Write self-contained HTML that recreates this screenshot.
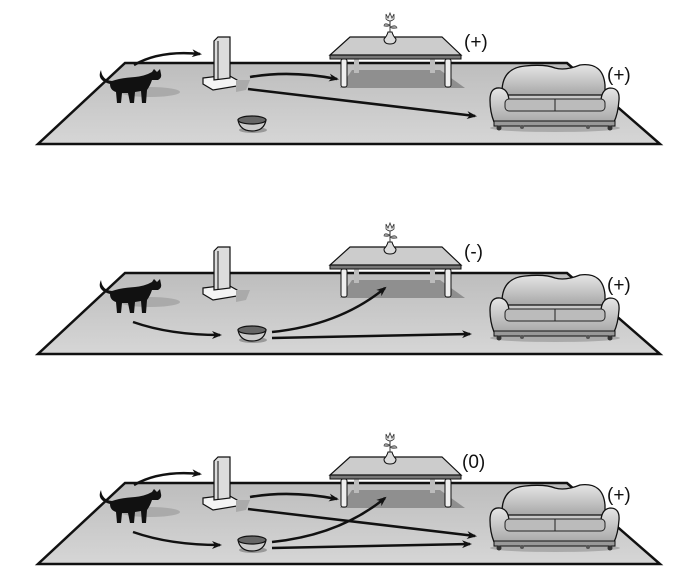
<!DOCTYPE html>
<html><head><style>
html,body{margin:0;padding:0;background:#fff;}
svg{display:block;}
text{font-family:"Liberation Sans",sans-serif;font-size:19px;fill:#111;}
</style></head><body>
<svg width="698" height="575" viewBox="0 0 698 575" xmlns="http://www.w3.org/2000/svg">
<defs>
<linearGradient id="fl" x1="0" y1="0" x2="0" y2="1">
<stop offset="0" stop-color="#bdbdbd"/><stop offset="1" stop-color="#d6d6d6"/></linearGradient>
<linearGradient id="sofa" x1="0" y1="0" x2="0" y2="1">
<stop offset="0" stop-color="#e6e6e6"/><stop offset="1" stop-color="#a8a8a8"/></linearGradient>
<marker id="ah" markerWidth="10" markerHeight="8" refX="8" refY="4" orient="auto" markerUnits="userSpaceOnUse" viewBox="0 0 10 8">
<path d="M0,0 L10,4 L0,8 L3,4 Z" fill="#111"/></marker>
<g id="room">
<polygon points="125,63 567,63 660,144 38,144" fill="url(#fl)" stroke="#111" stroke-width="2.5"/>
<!-- cat shadow -->
<ellipse cx="150" cy="92" rx="30" ry="5" fill="#aaa"/>
<!-- cat -->
<path d="M101,70 Q96,80 110,84 Q110,90 116,92 L117,103 L121,103 L122,93 L128,93 L130,103 L134,103 L135,92 L141,91 L142,103 L146,103 L147,90 Q150,86 152,80 L158,80 Q162,78 161,74 L160,69 L157,72 L154,69 L152,72 Q145,76 135,77 Q120,78 112,81 Q102,80 101,70 Z" fill="#111"/>
<!-- post -->
<polygon points="203,80 228,78 238,84 213,90" fill="#999"/>
<polygon points="203,78 228,75 237,80 237,86 213,90 203,84" fill="#f4f4f4" stroke="#111" stroke-width="1.2"/>
<polygon points="214,41 218,37 230,37 230,78 214,80" fill="#ddd" stroke="#111" stroke-width="1.2"/>
<line x1="218" y1="41" x2="218" y2="79" stroke="#111" stroke-width="1"/>
<polygon points="236,80 250,80 246,90 236,92" fill="#aaa"/>
<!-- bowl -->
<ellipse cx="253" cy="130" rx="14" ry="3" fill="#999"/>
<path d="M238,120 Q240,131 252,131 Q264,131 266,120 Z" fill="#ccc" stroke="#111" stroke-width="1.2"/>
<ellipse cx="252" cy="120" rx="14" ry="4" fill="#666" stroke="#111" stroke-width="1.2"/>
<!-- table shadow -->
<polygon points="352,70 440,70 465,88 340,88" fill="#8f8f8f"/>
<!-- table legs -->
<rect x="354" y="59" width="5" height="14" fill="#bbb"/>
<rect x="430" y="59" width="5" height="14" fill="#bbb"/>
<rect x="341" y="59" width="6" height="28" rx="2" fill="#eee" stroke="#111" stroke-width="1"/>
<rect x="445" y="59" width="6" height="28" rx="2" fill="#eee" stroke="#111" stroke-width="1"/>
<!-- table top -->
<polygon points="330,55 461,55 461,59 330,59" fill="#777" stroke="#111" stroke-width="1"/>
<polygon points="350,37 442,37 461,55 330,55" fill="#ccc" stroke="#111" stroke-width="1.2"/>
<!-- vase -->
<path d="M388,32 Q387,36 384,39 Q384,44 390,44 Q396,44 396,39 Q393,36 392,32 Z" fill="#ddd" stroke="#111" stroke-width="1"/>
<line x1="390" y1="32" x2="390" y2="20" stroke="#333" stroke-width="1"/>
<path d="M386,14 L388,18 L390,13 L392,18 L394,14 L394,19 Q390,23 386,19 Z" fill="#eee" stroke="#333" stroke-width="0.8"/>
<path d="M390,25 Q384,22 384,26 Q388,27 390,25 M390,27 Q396,24 397,28 Q392,29 390,27" fill="#999" stroke="#333" stroke-width="0.6"/>
<!-- sofa -->
<ellipse cx="555" cy="128" rx="65" ry="4" fill="#aaa"/>
<path d="M502,92 Q502,68 525,66 Q545,64 555,68 Q565,71 580,65 Q603,62 605,85 L605,95 L505,95 Z" fill="url(#sofa)" stroke="#111" stroke-width="1.3"/>
<path d="M490,100 Q490,87 500,88 Q508,89 509,100 L601,100 Q602,89 610,88 Q620,88 619,100 Q618,114 614,122 L494,122 Q490,112 490,100 Z" fill="url(#sofa)" stroke="#111" stroke-width="1.3"/>
<rect x="505" y="99" width="100" height="12" rx="4" fill="#bbb" stroke="#222" stroke-width="1"/>
<line x1="555" y1="99" x2="555" y2="111" stroke="#222" stroke-width="1"/>
<rect x="494" y="121" width="121" height="5" fill="#999" stroke="#111" stroke-width="1"/>
<circle cx="499" cy="128" r="2.5" fill="#333"/><circle cx="610" cy="128" r="2.5" fill="#333"/>
<circle cx="522" cy="127" r="2" fill="#555"/><circle cx="588" cy="127" r="2" fill="#555"/>
</g>
</defs>

<g>
<use href="#room"/>
<path d="M134,65 Q160,50 200,54" fill="none" stroke="#111" stroke-width="2.5" marker-end="url(#ah)"/>
<path d="M250,77 Q290,70 337,79" fill="none" stroke="#111" stroke-width="2.5" marker-end="url(#ah)"/>
<path d="M248,89 L475,116" fill="none" stroke="#111" stroke-width="2.5" marker-end="url(#ah)"/>
<text x="464" y="48">(+)</text>
<text x="607" y="81">(+)</text>
</g>

<g transform="translate(0,210)">
<use href="#room"/>
<path d="M133,112 Q170,125 220,125" fill="none" stroke="#111" stroke-width="2.5" marker-end="url(#ah)"/>
<path d="M272,122 Q340,115 385,78" fill="none" stroke="#111" stroke-width="2.5" marker-end="url(#ah)"/>
<path d="M272,128 L470,124" fill="none" stroke="#111" stroke-width="2.5" marker-end="url(#ah)"/>
<text x="464" y="48">(-)</text>
<text x="607" y="81">(+)</text>
</g>

<g transform="translate(0,420)">
<use href="#room"/>
<path d="M134,65 Q160,50 200,54" fill="none" stroke="#111" stroke-width="2.5" marker-end="url(#ah)"/>
<path d="M250,77 Q290,70 337,79" fill="none" stroke="#111" stroke-width="2.5" marker-end="url(#ah)"/>
<path d="M248,89 L475,116" fill="none" stroke="#111" stroke-width="2.5" marker-end="url(#ah)"/>
<path d="M133,112 Q170,125 220,125" fill="none" stroke="#111" stroke-width="2.5" marker-end="url(#ah)"/>
<path d="M272,122 Q340,115 385,78" fill="none" stroke="#111" stroke-width="2.5" marker-end="url(#ah)"/>
<path d="M272,128 L470,124" fill="none" stroke="#111" stroke-width="2.5" marker-end="url(#ah)"/>
<text x="462" y="48">(0)</text>
<text x="607" y="81">(+)</text>
</g>
</svg>
</body></html>
